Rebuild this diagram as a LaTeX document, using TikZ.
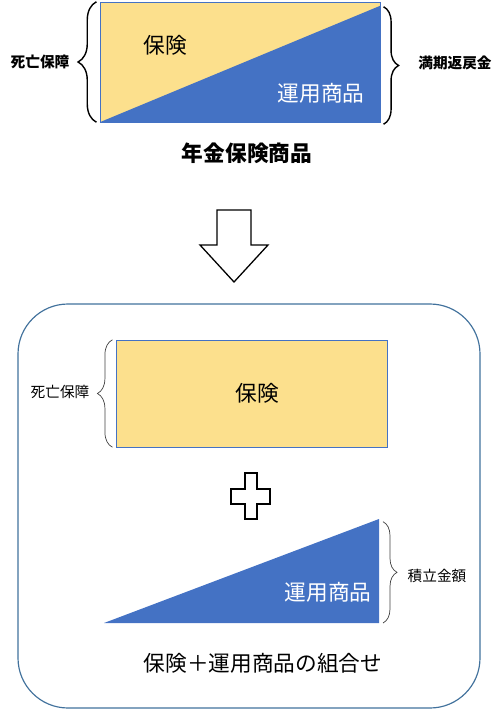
\documentclass[tikz,border=0pt]{standalone}
\usepackage{fontspec}
\setmainfont{Noto Sans CJK JP}
\usetikzlibrary{decorations.pathreplacing,positioning}
\definecolor{hokenyellow}{HTML}{FCE08D}
\definecolor{unyoblue}{HTML}{4472C4}
\definecolor{frameblue}{HTML}{41719C}

\begin{document}
\begin{tikzpicture}[x=0.03cm, y=-0.03cm,
    bigtxt/.style={font=\fontsize{18.5}{20}\selectfont},
    boldtxt/.style={font=\fontsize{18.5}{20}\selectfont\bfseries},
    lbltxt/.style={font=\fontsize{12.5}{14}\selectfont},
    boldlbl/.style={font=\fontsize{12.5}{14}\selectfont\bfseries},
    brc/.style={decorate, decoration={brace, amplitude=#1}}]
    \useasboundingbox (0,0) rectangle (495,710);

    % Annuity insurance product
    \node (box1) [rectangle, draw=unyoblue, fill=hokenyellow, inner sep=0pt, minimum width=8.4cm, minimum height=3.6cm] at (240,62) {};
    \fill[unyoblue] (box1.south west) -- ([yshift=-0.12cm]box1.north east) -- (box1.south east) -- cycle;
    \node (hoken1) [bigtxt] at (165,45) {保険};
    \node (unyo1) [bigtxt, text=white] at (321,93) {運用商品};
    \node (nenkin) [boldtxt] at (247,153) {年金保険商品};

    % Braces
    \draw[brc=0.55cm, line width=1.2pt] ([xshift=-0.1cm]box1.south west) -- ([xshift=-0.1cm]box1.north west);
    \draw[brc=0.45cm, line width=1.2pt] ([xshift=0.1cm, yshift=-0.15cm]box1.north east) -- ([xshift=0.1cm, yshift=-0.06cm]box1.south east);
    \node (shibo1) [boldlbl] at (40,62) {死亡保障};
    \node (manki) [boldlbl] at (455,63) {満期返戻金};

    % Down arrow
    \draw[line width=1.1pt, fill=white] (217,210) -- (251,210) -- (251,245) -- (268,245) -- (234,282) -- (200,245) -- (217,245) -- cycle;

    % Combination
    \draw[frameblue, line width=1pt, rounded corners=1.5cm] (18,304) rectangle (480,708);
    \node (box2) [rectangle, draw=unyoblue, fill=hokenyellow, inner sep=0pt, minimum width=8.13cm, minimum height=3.21cm] at (251.5,393.5) {};
    \node (hoken2) [bigtxt] at (257,393) {保険};
    \draw[brc=0.45cm, line width=0.6pt, black!75] ([xshift=-0.1cm]box2.south west) -- ([xshift=-0.1cm]box2.north west);
    \node (shibo2) [lbltxt] at (60,392) {死亡保障};

    % Plus sign
    \draw[line width=1.1pt, fill=white] (245,473) -- (257,473) -- (257,489) -- (270,489) -- (270,504) -- (257,504) -- (257,519) -- (245,519) -- (245,504) -- (231,504) -- (231,489) -- (245,489) -- cycle;

    % Investment product
    \coordinate (tri1) at (104,623);
    \coordinate (tri2) at (379,519);
    \coordinate (tri3) at (379,623);
    \fill[unyoblue] (tri1) -- (tri2) -- (tri3) -- cycle;
    \node (unyo2) [bigtxt, text=white] at (328,592) {運用商品};
    \draw[brc=0.42cm, line width=0.6pt, black!75] ([xshift=0.12cm, yshift=-0.08cm]tri2) -- ([xshift=0.12cm]tri3);
    \node (tsumitate) [lbltxt] at (437,576) {積立金額};

    \node (kumiawase) [bigtxt] at (263,663) {保険＋運用商品の組合せ};
\end{tikzpicture}
\end{document}
